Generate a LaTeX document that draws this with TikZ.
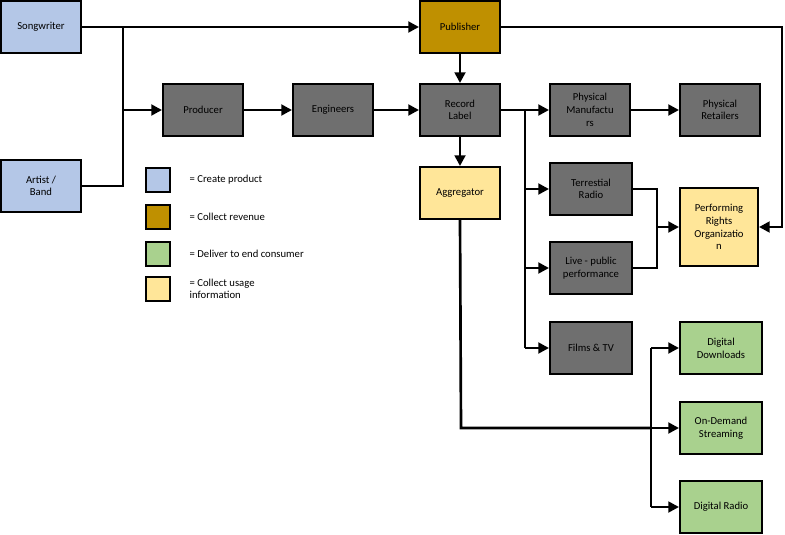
\documentclass[tikz,border=0pt]{standalone}
\usepackage{fontspec}
\setmainfont{Carlito}
\usetikzlibrary{arrows.meta}
\definecolor{cblue}{HTML}{B4C7E7}
\definecolor{cgold}{HTML}{BF9000}
\definecolor{cgreen}{HTML}{A9D18E}
\definecolor{cyel}{HTML}{FFE699}
\definecolor{cgray}{HTML}{6F6F6F}
\begin{document}
\begin{tikzpicture}[x=0.75pt,y=-0.75pt,
 box/.style={draw=black,line width=1.5pt,minimum width=60pt,minimum height=39pt,align=center,inner sep=1pt,font=\fontsize{8}{9.5}\selectfont},
 blue/.style={box,fill=cblue}, gold/.style={box,fill=cgold}, green/.style={box,fill=cgreen,minimum width=61.5pt},
 yel/.style={box,fill=cyel}, gray/.style={box,fill=cgray}, gray2/.style={gray,minimum width=61.5pt},
 leg/.style={draw=black,line width=1pt,minimum size=18pt,inner sep=0pt},
 legt/.style={anchor=west,align=left,font=\fontsize{8}{9.5}\selectfont},
 ar/.style={line width=2pt,-{Triangle[length=8pt,width=8pt]}},
 ln/.style={line width=2pt}]
\useasboundingbox (0,0) rectangle (785,535);
\node[blue] (song) at (41,27) {Songwriter};
\node[blue] (artist) at (41,186) {Artist /\\Band};
\node[gold] (pub) at (460,27) {Publisher};
\node[gray] (prod) at (203,110) {Producer};
\node[gray] (eng) at (333,110) {Engineers};
\node[gray] (rec) at (460,110) {Record\\Label};
\node[yel] (agg) at (460,193) {Aggregator};
\node[gray] (pm) at (590,110) {Physical\\Manufactu\\rs};
\node[gray] (pr) at (720,110) {Physical\\Retailers};
\node[gray2] (tr) at (591,189) {Terrestial\\Radio};
\node[gray2] (live) at (591,268) {Live - public\\performance};
\node[gray2] (film) at (591,348) {Films \& TV};
\node[yel,minimum width=58.5pt,minimum height=58.5pt] (pro) at (719,227) {Performing\\Rights\\Organizatio\\n};
\node[green] (dd) at (721,348) {Digital\\Downloads};
\node[green] (ods) at (721,428) {On-Demand\\Streaming};
\node[green] (dr) at (721,507) {Digital Radio};
% legend
\node[leg,fill=cblue] (l1) at (158,180) {};
\node[leg,fill=cgold] (l2) at (158,217) {};
\node[leg,fill=cgreen] (l3) at (158,254) {};
\node[leg,fill=cyel] (l4) at (158,289) {};
\node[legt] (t1) at (185,180) {= Create product};
\node[legt] (t2) at (185,217) {= Collect revenue};
\node[legt] (t3) at (185,254) {= Deliver to end consumer};
\node[legt] (t4) at (185,289) {= Collect usage\\information};
% connectors
\coordinate (j1) at (123,27);
\coordinate (j2) at (123,186);
\coordinate (j3) at (123,110);
\draw[ar] (song) -- (pub);
\draw[ln] (j1) -- (j2) -- (artist.east);
\draw[ar] (j3) -- (prod);
\draw[ar] (prod) -- (eng);
\draw[ar] (eng) -- (rec);
\draw[ar] (pub) -- (rec);
\draw[ar] (rec) -- (agg);
\draw[ar] (rec) -- (pm);
\draw[ar] (pm) -- (pr);
\coordinate (k1) at (525,110);
\coordinate (k2) at (525,348);
\draw[ln] (k1) -- (k2);
\draw[ar] (525,189) -- (tr);
\draw[ar] (525,268) -- (live);
\draw[ar] (k2) -- (film);
\draw[ar] (pub.east) -- (782,27) -- (782,227) -- (pro.east);
\draw[ln] (tr.east) -- (657,189) -- (657,268) -- (live.east);
\draw[ar] (657,227) -- (pro.west);
\draw[ln] (agg.south) -- (461,428) -- (651,428);
\draw[ln] (651,348) -- (651,507);
\draw[ar] (651,348) -- (dd);
\draw[ar] (651,428) -- (ods);
\draw[ar] (651,507) -- (dr);
\end{tikzpicture}
\end{document}
